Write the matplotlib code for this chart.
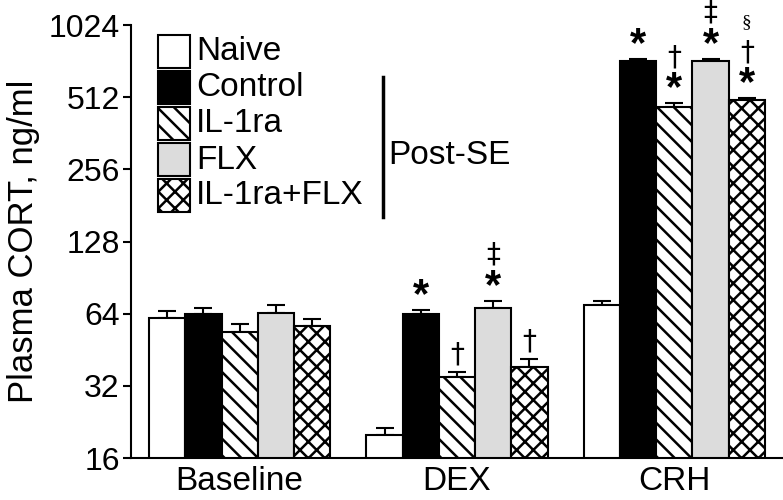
import matplotlib.pyplot as plt
from matplotlib.patches import Rectangle
from matplotlib.lines import Line2D
import numpy as np

# datos
grupos = ['Baseline', 'DEX', 'CRH']
tratamientos = ['Naive', 'Control', 'IL-1ra', 'FLX', 'IL-1ra+FLX']

naive = [61.5, 20.0, 69.5]
control = [64.0, 63.6, 723]
il1ra = [53.8, 34.7, 464]
flx = [64.6, 67.8, 723]
combo = [56.6, 38.4, 497]

naive_err = [4.3, 1.4, 3.0]
control_err = [3.3, 2.6, 14]
il1ra_err = [4.0, 1.8, 19]
flx_err = [4.7, 4.6, 17]
combo_err = [4.0, 2.9, 11]

# marcas de significancia (de abajo hacia arriba)
marcas_control = [[], ['*'], ['*']]
marcas_il1ra = [[], ['†'], ['*', '†']]
marcas_flx = [[], ['*', '‡'], ['*', '‡']]
marcas_combo = [[], ['†'], ['*', '†', '§']]
marcas_naive = [[], [], []]

yticks = [16, 32, 64, 128, 256, 512, 1024]

plt.rcParams['font.family'] = 'Liberation Sans'
plt.rcParams['hatch.linewidth'] = 1.8

medias = [naive, control, il1ra, flx, combo]
errores = [naive_err, control_err, il1ra_err, flx_err, combo_err]
marcas = [marcas_naive, marcas_control, marcas_il1ra, marcas_flx, marcas_combo]
colores = ['white', 'black', 'white', '#dcdcdc', 'white']
tramas = [None, None, '\\\\', None, 'xx']

fig = plt.figure(figsize=(7.83, 5.0), dpi=100)
ax = fig.add_axes([131/783, 1-458/500, 1-131/783, (458-25)/500])

centros = np.arange(len(grupos)) * 6
for i in range(len(tratamientos)):
    x = centros + (i - 2)
    ax.bar(x, medias[i], width=1.0, bottom=0, color=colores[i], hatch=tramas[i],
           edgecolor='black', linewidth=1.5, zorder=2)
    ax.errorbar(x, medias[i], yerr=[np.zeros(3), errores[i]], fmt='none',
                ecolor='black', elinewidth=1.5, capsize=6.5, capthick=1.5, zorder=1)
    for j in range(len(grupos)):
        tope = medias[i][j] + errores[i][j]
        desp = 12
        for m in marcas[i][j]:
            if m == '*':
                ax.annotate(m, (x[j], tope), xytext=(0, desp - 2), textcoords='offset points',
                            ha='center', va='center', fontsize=30, fontweight='bold')
                desp += 20
            elif m == '§':
                ax.annotate(m, (x[j], tope), xytext=(0, desp + 2), textcoords='offset points',
                            ha='center', va='center', fontsize=14, family='Liberation Serif')
                desp += 20
            else:
                ax.annotate(m, (x[j], tope), xytext=(0, desp + 1), textcoords='offset points',
                            ha='center', va='center', fontsize=20, family='DejaVu Sans')
                desp += 20

ax.set_yscale('log', base=2)
ax.set_ylim(16, 1024)
ax.set_xlim(-3, 15)
ax.set_yticks(yticks)
ax.set_yticklabels([str(t) for t in yticks], fontsize=23)
ax.minorticks_off()
ax.set_xticks(centros)
ax.set_xticklabels(grupos, fontsize=24)
ax.tick_params(axis='x', length=0, pad=6)
ax.tick_params(axis='y', length=6, width=1.5, direction='out', pad=2)
ax.set_ylabel('Plasma CORT, ng/ml', fontsize=25, labelpad=6)
for s in ['top', 'right']:
    ax.spines[s].set_visible(False)
for s in ['left', 'bottom']:
    ax.spines[s].set_linewidth(1.5)

# leyenda manual
def px(x, y):
    return x / 783, 1 - y / 500

for i, nombre in enumerate(tratamientos):
    y0 = 35 + 36 * i
    x0, yb = px(158, y0 + 33)
    fig.add_artist(Rectangle((x0, yb), 32/783, 33/500, transform=fig.transFigure,
                             facecolor=colores[i], hatch=tramas[i], edgecolor='black',
                             linewidth=1.5))
    tx, ty = px(196, y0 + 17)
    fig.text(tx, ty, nombre, fontsize=24, ha='left', va='center')

x1, y1 = px(383, 77)
x2, y2 = px(383, 217)
fig.add_artist(Line2D([x1, x2], [y1, y2], transform=fig.transFigure, color='black', linewidth=2.5))
tx, ty = px(388, 155)
fig.text(tx, ty, 'Post-SE', fontsize=24, ha='left', va='center')

fig.savefig('out.png', dpi=100)
